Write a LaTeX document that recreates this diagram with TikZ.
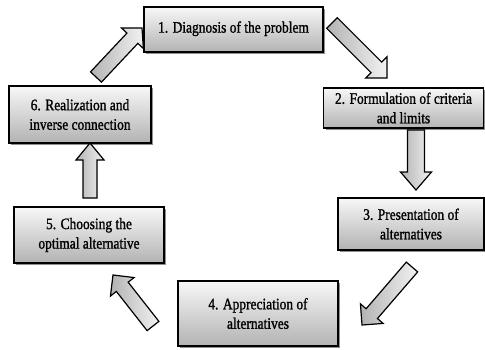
\documentclass[tikz,border=0pt]{standalone}
\usepackage{fontspec}
\setmainfont{Liberation Serif}[FakeStretch=0.84,FakeBold=1.2]
\usetikzlibrary{calc,shadows}
\tikzset{
  stagebox/.style={rectangle, draw=black, line width=1.3pt, inner sep=0pt,
    top color=white!97!black, bottom color=black!30,
    drop shadow={shadow xshift=2pt, shadow yshift=-2pt, fill=black!55, opacity=0.8},
    align=center, font=\fontsize{16}{19.5}\selectfont},
  blockarrow/.style={draw=black, line width=1.2pt, line join=miter,
    left color=black!30, right color=white!95!black},
  arrowshadow/.style={fill=black!45, opacity=0.7}
}
\newcommand{\bigarrow}[5]{% tail, tip, shaft half, head half, head length
  \coordinate (b-#1-#2) at ($(#2)!#5!(#1)$);
  \fill[arrowshadow, shift={(2pt,-2pt)}]
    ($(#1)!#3!90:(#2)$) -- ($(b-#1-#2)!#3!90:(#2)$) -- ($(b-#1-#2)!#4!90:(#2)$) -- (#2)
    -- ($(b-#1-#2)!#4!-90:(#2)$) -- ($(b-#1-#2)!#3!-90:(#2)$) -- ($(#1)!#3!-90:(#2)$) -- cycle;
  \draw[blockarrow]
    ($(#1)!#3!90:(#2)$) -- ($(b-#1-#2)!#3!90:(#2)$) -- ($(b-#1-#2)!#4!90:(#2)$) -- (#2)
    -- ($(b-#1-#2)!#4!-90:(#2)$) -- ($(b-#1-#2)!#3!-90:(#2)$) -- ($(#1)!#3!-90:(#2)$) -- cycle;
}
\begin{document}
\begin{tikzpicture}[x=1pt,y=-1pt]
\useasboundingbox[fill=white] (0,0) rectangle (485,349);
% boxes
\node[stagebox, minimum width=179pt, minimum height=45pt] (s1) at (233.5,29.5) {\raisebox{5pt}{1. Diagnosis of the problem}};
\node[stagebox, minimum width=160pt, minimum height=40pt] (s2) at (403.5,108) {2. Formulation of criteria\\and limits};
\node[stagebox, minimum width=146pt, minimum height=52pt] (s3) at (411,224) {3. Presentation of\\alternatives};
\node[stagebox, minimum width=160pt, minimum height=65pt] (s4) at (258,313.5) {4. Appreciation of\\alternatives};
\node[stagebox, minimum width=150pt, minimum height=56pt] (s5) at (89,235) {5. Choosing the\\optimal alternative};
\node[stagebox, minimum width=142pt, minimum height=57pt] (s6) at (80,114.5) {6. Realization and\\inverse connection};
% arrow end points
\coordinate (t12) at (332,23);  \coordinate (h12) at (387,78);
\coordinate (t23) at (416,130); \coordinate (h23) at (416,190);
\coordinate (t34) at (412,267); \coordinate (h34) at (362,325);
\coordinate (t45) at (153,326); \coordinate (h45) at (113,275);
\coordinate (t56) at (90,198);  \coordinate (h56) at (90,143);
\coordinate (t61) at (96,77);   \coordinate (h61) at (142,28);
\bigarrow{t12}{h12}{7.5pt}{15pt}{15pt}
\bigarrow{t23}{h23}{8.5pt}{15.5pt}{18pt}
\bigarrow{t34}{h34}{7.5pt}{15pt}{15pt}
\bigarrow{t45}{h45}{7.5pt}{15pt}{15pt}
\bigarrow{t56}{h56}{7pt}{14pt}{17pt}
\bigarrow{t61}{h61}{7.5pt}{15pt}{14pt}
\end{tikzpicture}
\end{document}
